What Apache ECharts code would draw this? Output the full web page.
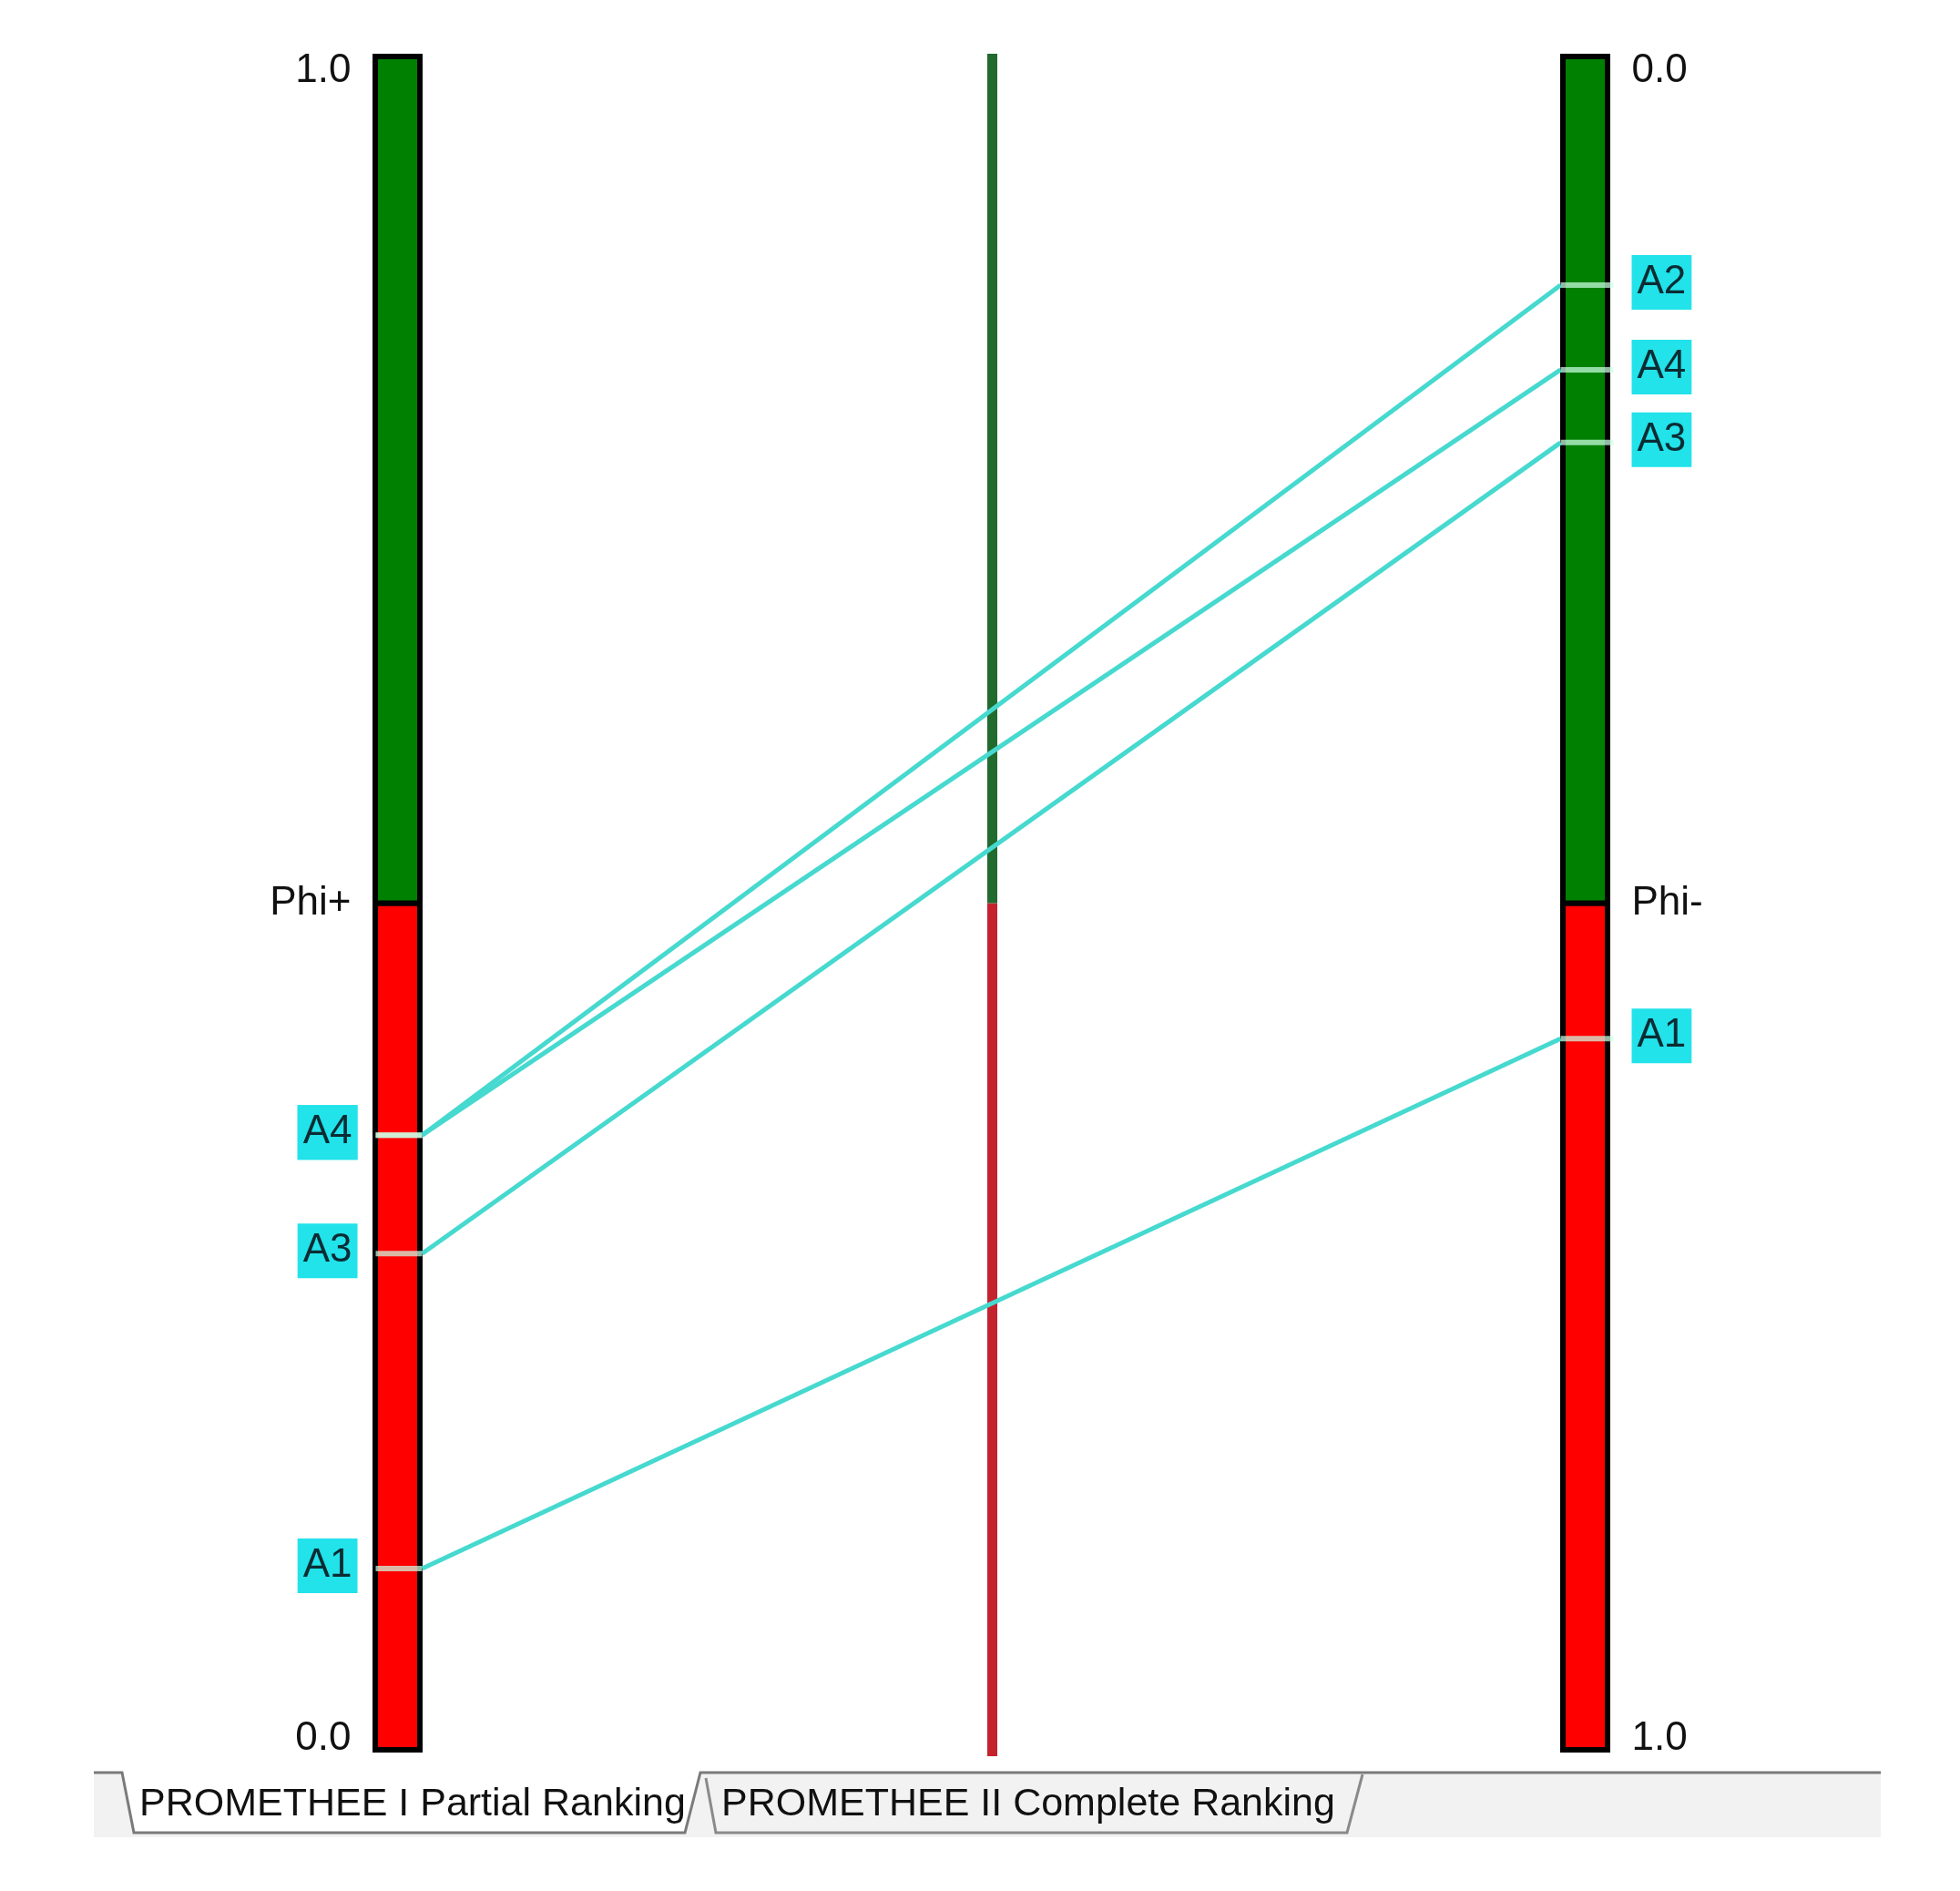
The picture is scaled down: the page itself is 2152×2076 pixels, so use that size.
<!DOCTYPE html>
<html>
<head>
<meta charset="utf-8">
<title>PROMETHEE I Partial Ranking</title>
<script src="https://cdn.jsdelivr.net/npm/echarts@6.0.0/dist/echarts.min.js"></script>
<style>
html, body { margin: 0; padding: 0; background: #fff; }
#ranking-container { width: 2152px; height: 2076px; }
</style>
</head>
<body>
<div id="ranking-container"></div>
<script>
// values
const alternatives = ['A1', 'A2', 'A3', 'A4']
const phiPlus = [0.107, 0.363, 0.293, 0.363]
const phiMinus = [0.580, 0.135, 0.228, 0.185]
// bar halves (value ranges)
const lowerHalf = [0, 0.5]
const upperHalf = [0.5, 1]
const phiPlusLabels = ['0.0', 'Phi+', '1.0']
const phiMinusLabels = ['0.0', 'Phi-', '1.0']
const tabTitles = ['PROMETHEE I Partial Ranking', 'PROMETHEE II Complete Ranking']

const FONT = "'Liberation Sans', Arial, sans-serif"
const GREEN = '#008000'
const RED = '#ff0000'

const barData = [
  [0].concat(lowerHalf), [0].concat(upperHalf),
  [1].concat(lowerHalf), [1].concat(upperHalf)
]
const middleData = [[0.5].concat(lowerHalf), [0.5].concat(upperHalf)]
// right axis is inverted, so phi- goes on the shared scale as 1 - value
const flowData = alternatives.map((name, i) => [phiPlus[i], 1 - phiMinus[i]])

function labelFormatter (labels) {
  return function (v) {
    if (v === 1) return (labels === phiPlusLabels ? '{top|' : '{bottom|') + labels[2] + '}'
    if (v === 0) return (labels === phiPlusLabels ? '{bottom|' : '{top|') + labels[0] + '}'
    return '{mid|' + labels[1] + '}'
  }
}

function richStyles () {
  const base = { fontSize: 44, fontFamily: FONT, color: '#111', lineHeight: 44 }
  return {
    top: Object.assign({ padding: [32, 0, 0, 0] }, base),
    bottom: Object.assign({ padding: [0, 0, 25, 0] }, base),
    mid: Object.assign({}, base)
  }
}

function renderBar (params, api) {
  const x = api.value(0)
  const from = api.value(1)
  const p0 = api.coord([x, from])
  const p1 = api.coord([x, api.value(2)])
  return {
    type: 'rect',
    shape: { x: p0[0] - 24.5, y: p1[1], width: 49, height: p0[1] - p1[1] },
    style: { fill: from >= 0.5 ? GREEN : RED, stroke: '#000', lineWidth: 6 }
  }
}

function renderMiddle (params, api) {
  const from = api.value(1)
  const p0 = api.coord([0.5, from])
  const p1 = api.coord([0.5, api.value(2)])
  const top = from >= 0.5 ? p1[1] - 3 : p1[1]
  const bottom = from >= 0.5 ? p0[1] : p0[1] + 7
  return {
    type: 'rect',
    shape: { x: p0[0] - 4.5, y: top, width: 11, height: bottom - top },
    style: { fill: from >= 0.5 ? '#216b2e' : '#c4232d' }
  }
}

function flowLabel (text, x, y, align) {
  return {
    type: 'text',
    z2: 10,
    style: {
      text: text,
      x: x,
      y: y,
      align: align,
      verticalAlign: 'middle',
      fontSize: 44,
      fontFamily: FONT,
      lineHeight: 48,
      fill: '#0b2c33',
      backgroundColor: '#22e2ea',
      padding: [6, 6, 6, 6]
    }
  }
}

function renderFlow (params, api) {
  const name = alternatives[params.dataIndex]
  const left = api.coord([0, api.value(0)])
  const right = api.coord([1, api.value(1)])
  const tick = { stroke: 'rgba(205,255,230,0.72)', lineWidth: 6 }
  return {
    type: 'group',
    children: [
      { type: 'line', shape: { x1: left[0] - 24, y1: left[1], x2: left[0] + 27, y2: left[1] }, style: tick },
      { type: 'line', shape: { x1: right[0] - 27, y1: right[1], x2: right[0] + 31, y2: right[1] }, style: tick },
      {
        type: 'line',
        shape: { x1: left[0] + 27, y1: left[1], x2: right[0] - 27, y2: right[1] },
        style: { stroke: '#46d9cf', lineWidth: 5 }
      },
      flowLabel(name, left[0] - 44, left[1] - 3, 'right'),
      flowLabel(name, right[0] + 51, right[1] - 3, 'left')
    ]
  }
}

const myChart = echarts.init(document.getElementById('ranking-container'))
const option = {
  animation: false,
  backgroundColor: '#fff',
  grid: { left: 436.5, right: 411.5, top: 62, bottom: 155 },
  xAxis: { type: 'value', min: 0, max: 1, show: false },
  yAxis: [
    {
      type: 'value', min: 0, max: 1, interval: 0.5, position: 'left',
      axisLine: { show: false }, axisTick: { show: false }, splitLine: { show: false },
      axisLabel: { margin: 51, formatter: labelFormatter(phiPlusLabels), rich: richStyles() }
    },
    {
      type: 'value', min: 0, max: 1, interval: 0.5, position: 'right', inverse: true,
      axisLine: { show: false }, axisTick: { show: false }, splitLine: { show: false },
      axisLabel: { margin: 51, formatter: labelFormatter(phiMinusLabels), rich: richStyles() }
    }
  ],
  graphic: [
    { type: 'rect', silent: true, shape: { x: 103, y: 1946, width: 1962, height: 71 }, style: { fill: '#f2f2f2' } },
    { type: 'polygon', silent: true, shape: { points: [[134, 1946], [147, 2012], [752, 2012], [769, 1946]] }, style: { fill: '#fff' } },
    {
      type: 'polyline', silent: true,
      shape: { points: [[103, 1946], [134, 1946], [147, 2012], [752, 2012], [769, 1946], [2065, 1946]] },
      style: { stroke: '#7a7a7a', lineWidth: 3, fill: null }
    },
    {
      type: 'polyline', silent: true,
      shape: { points: [[775, 1952], [786, 2012], [1479, 2012], [1496, 1948]] },
      style: { stroke: '#8a8a8a', lineWidth: 3, fill: null }
    },
    { type: 'text', silent: true, style: { text: tabTitles[0], x: 153, y: 1981, verticalAlign: 'middle', fontSize: 43, fontFamily: FONT, fill: '#111' } },
    { type: 'text', silent: true, style: { text: tabTitles[1], x: 792, y: 1981, verticalAlign: 'middle', fontSize: 43, fontFamily: FONT, fill: '#111' } }
  ],
  series: [
    { type: 'custom', renderItem: renderMiddle, data: middleData, z: 1 },
    { type: 'custom', renderItem: renderBar, data: barData, z: 2 },
    { type: 'custom', renderItem: renderFlow, data: flowData, z: 3 }
  ]
}
myChart.setOption(option)
</script>
</body>
</html>
